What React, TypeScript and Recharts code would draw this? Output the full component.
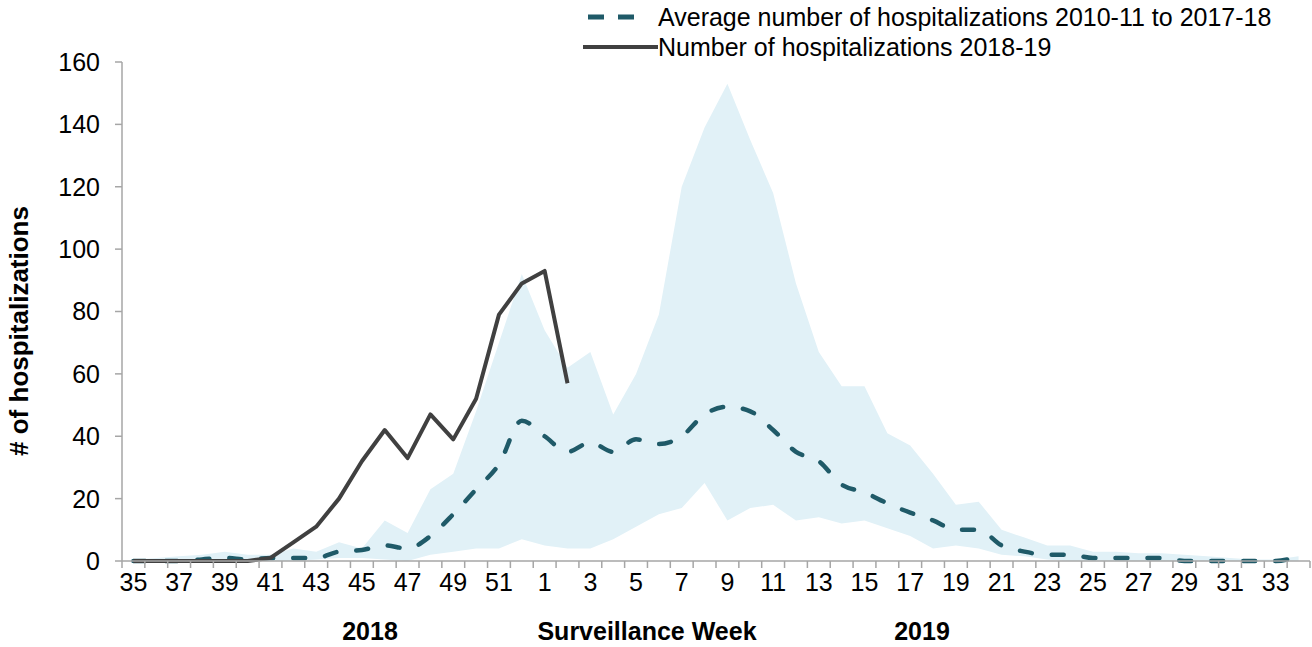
import { ComposedChart, Area, Line, XAxis, YAxis } from 'recharts'

const FONT = '"Liberation Sans", Arial, sans-serif'
const AXIS = '#a6a6a6'
const BAND = '#e1f1f7'
const AVG = '#1f5a68'
const CUR = '#404040'

const W = 1312
const H = 647
const LEFT = 122
const RIGHT = 2
const TOP = 62
const BOTTOM = 86
const AXIS_Y = H - BOTTOM

// surveillance weeks 35 (2018) .. 34 (2019)
const weeks = [
  '35', '36', '37', '38', '39', '40', '41', '42', '43', '44', '45', '46', '47', '48', '49', '50', '51', '52',
  '1', '2', '3', '4', '5', '6', '7', '8', '9', '10', '11', '12', '13', '14', '15', '16', '17', '18', '19', '20',
  '21', '22', '23', '24', '25', '26', '27', '28', '29', '30', '31', '32', '33', '34',
]

// average 2010-11 to 2017-18
const average = [
  0, 0, 0, 0.5, 1, 0.5, 1, 1, 1, 3, 3.5, 5, 4, 8, 15, 23, 31, 45,
  40, 35, 38, 35, 39, 37.5, 40, 47, 49.5, 48, 42, 35, 32, 24.5, 22, 18.5, 15.5, 13, 10, 10,
  5, 3, 2, 2, 1, 1, 1, 1, 0, 0, 0, 0, 0, 1.5,
]

// min / max of previous seasons (shaded range)
const rangeLow = [
  0, 0, 0, 0, 0, 0, 0, 0, 0.5, 1, 1, 0.5, 0, 2, 3, 4, 4, 7,
  5, 4, 4, 7, 11, 15, 17, 25, 13, 17, 18, 13, 14, 12, 13, 10.5, 8, 4, 5, 4,
  2, 1.5, 0.5, 0, 0, 0, 0, 0, 0, 0, 0, 0, 0, 0,
]
const rangeHigh = [
  0.5, 1, 1.5, 2, 3, 2, 2, 4, 3, 6, 4, 13, 9, 23, 28, 48, 70, 92,
  74, 62, 67, 47, 60, 79, 120, 139, 153, 135, 118, 89, 67, 56, 56, 41, 37, 28, 18, 19,
  10, 7.5, 5, 5, 3, 3, 2.5, 2.5, 2, 1.5, 1, 0.5, 0.5, 1.5,
]

// 2018-19 season so far (through week 2)
const current = [0, 0, 0, 0, 0, 0, 1, 6, 11, 20, 32, 42, 33, 47, 39, 52, 79, 89, 93, 57]

const yTicks = [0, 20, 40, 60, 80, 100, 120, 140, 160]

const data = weeks.map((week, i) => ({
  week,
  band: [rangeLow[i], rangeHigh[i]],
  avg: average[i],
  cur: i < current.length ? current[i] : null,
}))

const PLOT_W = W - LEFT - RIGHT
const BW = PLOT_W / weeks.length

const WeekTick = (props: any) => {
  const { x, payload } = props
  const i = payload.index
  return (
    <g>
      <line x1={x - BW / 2} x2={x - BW / 2} y1={AXIS_Y} y2={AXIS_Y + 7} stroke={AXIS} strokeWidth={1.5} />
      {i === weeks.length - 1 && (
        <line x1={x + BW / 2} x2={x + BW / 2} y1={AXIS_Y} y2={AXIS_Y + 7} stroke={AXIS} strokeWidth={1.5} />
      )}
      {i % 2 === 0 && (
        <text x={x} y={AXIS_Y + 30} textAnchor="middle" fontSize={25} fontFamily={FONT} fill="#000">
          {payload.value}
        </text>
      )}
    </g>
  )
}

const YLabel = () => (
  <text
    x={28}
    y={331}
    transform="rotate(-90, 28, 331)"
    textAnchor="middle"
    fontSize={26}
    fontWeight="bold"
    fontFamily={FONT}
    fill="#000"
  >
    # of hospitalizations
  </text>
)

const XLabels = () => (
  <g fontSize={25} fontWeight="bold" fontFamily={FONT} fill="#000">
    <text x={370} y={640} textAnchor="middle">2018</text>
    <text x={647} y={640} textAnchor="middle">Surveillance Week</text>
    <text x={922} y={640} textAnchor="middle">2019</text>
  </g>
)

export default function App() {
  return (
    <div style={{ position: 'absolute', left: 0, top: 0, width: W, height: H, background: '#fff' }}>
      <ComposedChart width={W} height={H} data={data} margin={{ top: TOP, right: RIGHT, bottom: 0, left: 0 }}>
        <XAxis
          dataKey="week"
          scale="band"
          interval={0}
          tickLine={false}
          axisLine={{ stroke: AXIS, strokeWidth: 1.5 }}
          tick={<WeekTick />}
          height={BOTTOM}
          label={<XLabels />}
        />
        <YAxis
          domain={[0, 160]}
          ticks={yTicks}
          width={LEFT}
          tickSize={7}
          tickMargin={15}
          tickLine={{ stroke: AXIS, strokeWidth: 1.5 }}
          axisLine={{ stroke: AXIS, strokeWidth: 1.5 }}
          tick={{ fontSize: 25, fontFamily: FONT, fill: '#000' }}
          label={<YLabel />}
        />
        <Area
          dataKey="band"
          type="linear"
          stroke="none"
          fill={BAND}
          fillOpacity={1}
          isAnimationActive={false}
        />
        <Line
          dataKey="avg"
          type="monotone"
          stroke={AVG}
          strokeWidth={4.5}
          strokeDasharray="12 20"
          strokeLinecap="round"
          dot={false}
          activeDot={false}
          isAnimationActive={false}
        />
        <Line
          dataKey="cur"
          type="linear"
          stroke={CUR}
          strokeWidth={4}
          strokeLinejoin="round"
          dot={false}
          activeDot={false}
          isAnimationActive={false}
        />
      </ComposedChart>
      <div style={{ position: 'absolute', left: 0, top: 0, fontFamily: FONT, fontSize: 25, color: '#000' }}>
        <div style={{ position: 'absolute', left: 580, top: 2, height: 30, display: 'flex', alignItems: 'center', whiteSpace: 'nowrap' }}>
          <svg width={78} height={10}>
            <line x1={8} y1={5} x2={64} y2={5} stroke={AVG} strokeWidth={5} strokeDasharray="16 14" />
          </svg>
          <span>Average number of hospitalizations 2010-11 to 2017-18</span>
        </div>
        <div style={{ position: 'absolute', left: 580, top: 32, height: 30, display: 'flex', alignItems: 'center', whiteSpace: 'nowrap' }}>
          <svg width={78} height={10}>
            <line x1={3} y1={5} x2={78} y2={5} stroke={CUR} strokeWidth={4} />
          </svg>
          <span>Number of hospitalizations 2018-19</span>
        </div>
      </div>
    </div>
  )
}
